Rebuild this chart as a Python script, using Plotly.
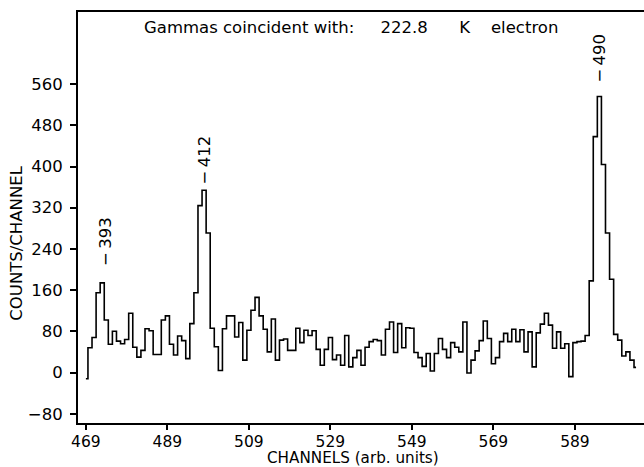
import plotly.graph_objects as go

# ---- data ----
channels = list(range(469, 605))
counts = [
    -12, 48, 68, 155, 174, 102, 55, 80, 61, 56,        # 469-478
    64, 115, 49, 30, 43, 85, 81, 35, 35, 102,          # 479-488
    110, 55, 34, 71, 62, 27, 95, 155, 324, 354,        # 489-498
    271, 86, 50, 4, 85, 110, 110, 69, 97, 24,          # 499-508
    82, 121, 146, 110, 84, 40, 104, 24, 63, 65,        # 509-518
    43, 43, 86, 58, 82, 72, 81, 45, 14, 45,            # 519-528
    68, 25, 34, 14, 72, 11, 29, 43, 14, 49,            # 529-538
    60, 64, 62, 34, 84, 98, 39, 95, 48, 87,            # 539-548
    86, 39, 29, 12, 37, 3, 37, 66, 45, 29,             # 549-558
    58, 49, 40, 98, -1, 24, 42, 62, 100, 66,           # 559-568
    17, 29, 60, 76, 60, 84, 60, 83, 40, 79,            # 569-578
    11, 77, 94, 115, 92, 47, 79, 47, 56, -8,           # 579-588
    58, 60, 61, 72, 178, 458, 536, 404, 271, 181,      # 589-598
    74, 63, 32, 40, 24, 10,                            # 599-604
]
x_ticks = [469, 489, 509, 529, 549, 569, 589]
y_ticks = [-80, 0, 80, 160, 240, 320, 400, 480, 560]

peak_labels = ["393", "412", "490"]
peak_channels = [473.8, 498.2, 595]
peak_label_y = [203, 362, 559]

title_text = ("Gammas coincident with:" + "\u00a0" * 5 + "222.8" + "\u00a0" * 6 +
              "K" + "\u00a0" * 4 + "electron")

FONT = "DejaVu Sans, Verdana, sans-serif"
FS = 16.5

fig = go.Figure()
fig.add_trace(go.Scatter(
    x=channels, y=counts, mode="lines",
    line=dict(shape="hvh", color="black", width=1.6),
    hoverinfo="skip", showlegend=False,
))

for lab, cx, cy in zip(peak_labels, peak_channels, peak_label_y):
    fig.add_annotation(
        x=cx, y=cy, xref="x", yref="y", text="\u2212\u2009" + lab,
        textangle=-90, showarrow=False, xanchor="center", yanchor="bottom",
        font=dict(family=FONT, size=FS, color="black"),
    )

fig.add_annotation(
    x=0.482, y=0.962, xref="paper", yref="paper", text=title_text,
    showarrow=False, xanchor="center", yanchor="middle",
    font=dict(family=FONT, size=FS, color="black"),
)
fig.add_annotation(
    x=-0.109, y=0.437, xref="paper", yref="paper", text="COUNTS/CHANNEL",
    textangle=-90, showarrow=False, xanchor="center", yanchor="middle",
    font=dict(family=FONT, size=FS, color="black"),
)
fig.add_annotation(
    x=0.486, y=-0.0862, xref="paper", yref="paper", text="CHANNELS (arb. units)",
    showarrow=False, xanchor="center", yanchor="middle",
    font=dict(family=FONT, size=15.2, color="black"),
)

fig.update_layout(
    width=644, height=467,
    margin=dict(l=78, r=0, t=12, b=44, pad=0),
    paper_bgcolor="white", plot_bgcolor="white",
    font=dict(family=FONT, size=FS, color="black"),
    xaxis=dict(
        range=[467.06, 605.95], tickvals=x_ticks,
        ticks="outside", ticklen=5, tickwidth=2, tickcolor="black",
        showline=True, linewidth=2, linecolor="black", mirror=True,
        showgrid=False, zeroline=False, ticklabelstandoff=-2,
        tickfont=dict(family=FONT, size=15.5, color="black"),
    ),
    yaxis=dict(
        range=[-98, 700], tickvals=y_ticks,
        ticks="outside", ticklen=6, tickwidth=2, tickcolor="black",
        showline=True, linewidth=2, linecolor="black", mirror=False,
        showgrid=False, zeroline=False, ticklabelstandoff=4,
        tickfont=dict(family=FONT, size=FS, color="black"),
    ),
)

fig.write_html("out.html", config={"displayModeBar": False})
